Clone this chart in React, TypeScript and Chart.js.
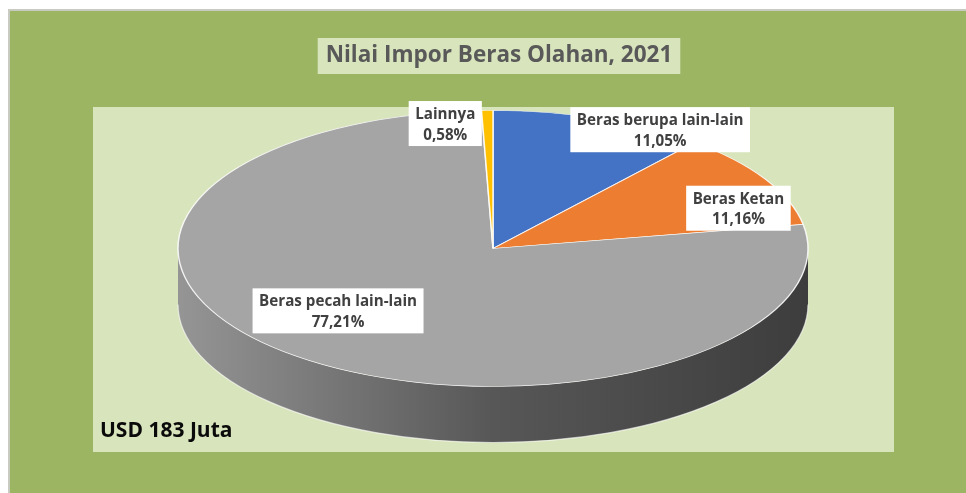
import React, { useEffect, useRef } from "react";
import { Chart, registerables } from "chart.js";

Chart.register(...registerables);

// ---- data ----
const categories = ["Beras berupa lain-lain", "Beras Ketan", "Beras pecah lain-lain", "Lainnya"];
const shares = [11.05, 11.16, 77.21, 0.58];
const sliceColors = ["#4472C4", "#ED7D31", "#A5A5A5", "#FFC000"];
const titleText = "Nilai Impor Beras Olahan, 2021";
const totalNote = "USD 183 Juta";

// ---- style / layout ----
const W = 958;
const H = 485;
const PIE_RADIUS = 315;
const TILT = 138 / 315;
const DEPTH = 56;
const FONT = "'Open Sans', 'Noto Sans', sans-serif";
const TITLE_SIZE = 22.5;
const TITLE_SHIFT = 6;
const LABEL_SIZE = 15.2;
const NOTE_SIZE = 21;
// label box centre, relative to the slice's rim point at its mid angle
const labelNudges: [number, number][] = [
  [60, 11],
  [-27, 29],
  [43, -45],
  [-42, 13],
];

function shade(hex: string, f: number): string {
  const n = parseInt(hex.slice(1), 16);
  const r = Math.round(((n >> 16) & 255) * f);
  const g = Math.round(((n >> 8) & 255) * f);
  const b = Math.round((n & 255) * f);
  return `rgb(${r},${g},${b})`;
}

function fmtPct(v: number): string {
  return v.toFixed(2).replace(".", ",") + "%";
}

const pie3dPlugin = {
  id: "pie3d",
  beforeDraw(chart: any) {
    const { ctx } = chart;
    ctx.save();
    ctx.fillStyle = "#c9cbc3";
    ctx.fillRect(0, 1, W, H);
    ctx.fillStyle = "#9bb563";
    ctx.fillRect(2, 3, W, H);
    ctx.fillStyle = "#d8e4bc";
    ctx.fillRect(85, 99, 801, 345);
    const tb = chart.titleBlock;
    ctx.font = `bold ${TITLE_SIZE}px ${FONT}`;
    const tw = ctx.measureText(titleText).width;
    const cx = (tb.left + tb.right) / 2 + TITLE_SHIFT;
    ctx.fillRect(cx - tw / 2 - 8, 30, tw + 16, 36);
    ctx.restore();
    // the title layer is drawn next; nudge it to sit over its box
    ctx.save();
    ctx.translate(TITLE_SHIFT, 0);
  },
  beforeDatasetsDraw(chart: any) {
    const { ctx } = chart;
    ctx.restore();
    const arcs = chart.getDatasetMeta(0).data;
    ctx.save();
    arcs.forEach((arc: any, i: number) => {
      const { x, y, startAngle, endAngle, outerRadius } = arc.getProps(
        ["x", "y", "startAngle", "endAngle", "outerRadius"],
        true
      );
      const r = outerRadius;
      const a0 = Math.max(startAngle, 0);
      const a1 = Math.min(endAngle, Math.PI);
      if (a1 <= a0) return;
      const ry = r * TILT;
      const base = sliceColors[i];
      const g = ctx.createLinearGradient(x - r, 0, x + r, 0);
      g.addColorStop(0, shade(base, 0.9));
      g.addColorStop(0.5, shade(base, 0.53));
      g.addColorStop(1, shade(base, 0.37));
      ctx.beginPath();
      ctx.ellipse(x, y, r, ry, 0, a0, a1, false);
      ctx.ellipse(x, y + DEPTH, r, ry, 0, a1, a0, true);
      ctx.closePath();
      ctx.fillStyle = g;
      ctx.fill();
      ctx.strokeStyle = "rgba(255,255,255,0.6)";
      ctx.lineWidth = 1.2;
      ctx.beginPath();
      ctx.ellipse(x, y + DEPTH, r, ry, 0, a0, a1, false);
      ctx.stroke();
    });
    ctx.restore();
    const a = arcs[0];
    ctx.save();
    ctx.translate(a.x, a.y);
    ctx.scale(1, TILT);
    ctx.translate(-a.x, -a.y);
  },
  afterDatasetsDraw(chart: any) {
    const { ctx } = chart;
    ctx.restore();
    const arcs = chart.getDatasetMeta(0).data;
    ctx.save();
    ctx.font = `bold ${LABEL_SIZE}px ${FONT}`;
    ctx.textAlign = "center";
    ctx.textBaseline = "alphabetic";
    arcs.forEach((arc: any, i: number) => {
      const { x, y, startAngle, endAngle, outerRadius } = arc.getProps(
        ["x", "y", "startAngle", "endAngle", "outerRadius"],
        true
      );
      const mid = (startAngle + endAngle) / 2;
      const lx = x + outerRadius * Math.cos(mid) + labelNudges[i][0];
      const ly = y + outerRadius * TILT * Math.sin(mid) + labelNudges[i][1];
      const lines = [categories[i], fmtPct(shares[i])];
      const w = Math.max(...lines.map((l) => ctx.measureText(l).width)) + 13;
      const h = 45;
      const top = ly - h / 2;
      ctx.fillStyle = "#ffffff";
      ctx.fillRect(lx - w / 2, top, w, h);
      ctx.fillStyle = "#404040";
      ctx.fillText(lines[0], lx, top + 18);
      ctx.fillText(lines[1], lx, top + 38.6);
    });
    ctx.restore();
  },
  afterDraw(chart: any) {
    const { ctx } = chart;
    ctx.save();
    ctx.font = `bold ${NOTE_SIZE}px ${FONT}`;
    ctx.fillStyle = "#0a0a0a";
    ctx.textAlign = "left";
    ctx.textBaseline = "alphabetic";
    ctx.fillText(totalNote, 92, 429);
    ctx.restore();
  },
};

export default function App() {
  const ref = useRef<HTMLCanvasElement>(null);
  useEffect(() => {
    if (!ref.current) return;
    const chart = new Chart(ref.current, {
      type: "pie",
      data: {
        labels: categories,
        datasets: [
          {
            data: shares,
            backgroundColor: sliceColors,
            borderColor: "rgba(255,255,255,0.85)",
            borderWidth: 1.5,
            radius: PIE_RADIUS,
            clip: false,
          } as any,
        ],
      },
      options: {
        animation: false,
        responsive: false,
        events: [],
        layout: { padding: { left: 12, right: 0, top: 0, bottom: 74 } },
        plugins: {
          legend: { display: false },
          tooltip: { enabled: false },
          title: {
            display: true,
            text: titleText,
            color: "#595959",
            font: { family: FONT, size: TITLE_SIZE, weight: "bold", lineHeight: 1.2 },
            padding: { top: 34, bottom: 9 },
          },
        },
      },
      plugins: [pie3dPlugin],
    });
    return () => chart.destroy();
  }, []);
  return (
    <canvas
      ref={ref}
      width={W}
      height={H}
      style={{ position: "fixed", left: 8, top: 8, width: W, height: H, display: "block" }}
    />
  );
}
